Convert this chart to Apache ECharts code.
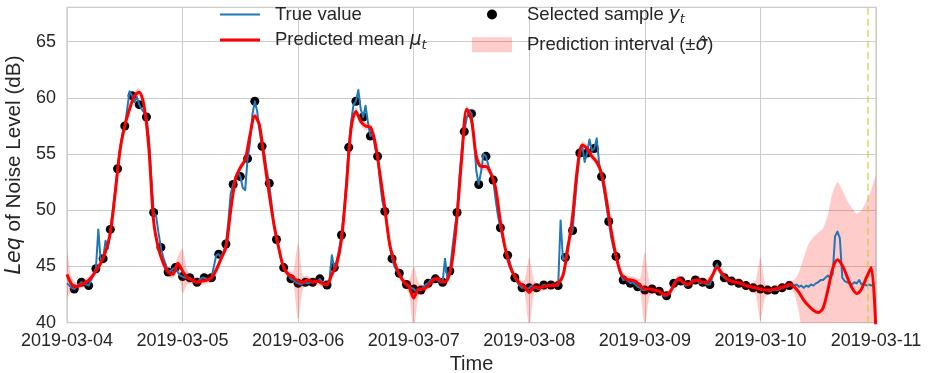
<!DOCTYPE html>
<html>
<head>
<meta charset="utf-8">
<script src="https://cdn.jsdelivr.net/npm/echarts@6/dist/echarts.min.js"></script>
<style>
  html, body { margin: 0; padding: 0; background: #ffffff; }
  #chart { width: 928px; height: 373px; }
</style>
</head>
<body>
<div id="chart"></div>
<script>
// Day labels on the time axis (one tick every 24 h, starting 2019-03-04 00:00)
const dayLabels = ['2019-03-04', '2019-03-05', '2019-03-06', '2019-03-07',
                   '2019-03-08', '2019-03-09', '2019-03-10', '2019-03-11'];

// Measured Leq (dB), one value every 30 minutes from 2019-03-04 00:00
const trueStepHours = 0.5;
const trueValues = [
  // 03-04
  43.5, 43.3, 43.1, 43.0, 43.2, 43.4, 43.6, 43.5, 43.4, 43.3,
  43.8, 44.3, 44.8, 48.3, 45.5, 45.7, 47.3, 46.6, 48.3, 50.0,
  51.8, 53.7, 55.5, 56.8, 57.5, 59.0, 60.6, 60.2, 59.6, 60.1,
  59.4, 59.0, 58.7, 58.3, 56.5, 53.0, 49.8, 49.5, 48.0, 46.7,
  45.8, 45.2, 44.5, 44.6, 44.8, 44.9, 44.5, 44.2,
  // 03-05
  44.1, 44.0, 44.0, 44.0, 43.8, 43.6, 43.6, 43.8, 44.0, 44.0,
  43.9, 43.8, 44.0, 45.0, 46.0, 46.1, 45.8, 46.3, 47.0, 49.0,
  51.5, 52.3, 53.0, 53.4, 53.0, 52.0, 51.8, 54.6, 56.0, 58.5,
  59.7, 58.8, 57.0, 55.7, 55.0, 53.5, 52.4, 50.5, 48.5, 47.4,
  46.5, 45.5, 44.9, 44.5, 44.2, 43.9, 43.8, 43.6,
  // 03-06
  43.5, 43.4, 43.5, 43.6, 43.5, 43.6, 43.6, 43.7, 43.6, 43.9,
  43.6, 43.4, 43.35, 43.8, 46.0, 44.9, 45.5, 46.5, 47.8, 49.8,
  52.5, 55.6, 57.9, 59.4, 59.7, 60.7, 59.0, 58.3, 59.3, 57.8,
  56.6, 56.9, 55.5, 54.8, 52.5, 50.8, 49.9, 48.5, 47.0, 45.7,
  45.0, 44.6, 44.4, 44.0, 43.6, 43.4, 43.3, 43.1,
  // 03-07
  43.0, 42.8, 42.9, 42.9, 43.2, 43.4, 43.5, 43.8, 43.9, 43.9,
  43.8, 43.6, 43.6, 45.7, 43.9, 44.6, 46.5, 48.3, 49.8, 53.0,
  55.5, 57.0, 58.2, 58.9, 58.6, 56.5, 53.5, 52.3, 53.5, 55.0,
  54.8, 54.0, 53.3, 52.7, 51.0, 49.5, 48.45, 47.5, 46.6, 46.0,
  45.3, 44.6, 44.0, 43.6, 43.3, 43.1, 43.1, 43.0,
  // 03-08
  43.1, 43.3, 43.1, 43.1, 43.0, 43.2, 43.35, 43.3, 43.3, 43.35,
  43.4, 43.3, 43.3, 49.1, 45.6, 45.8, 47.0, 47.6, 48.2, 50.8,
  53.2, 55.1, 55.7, 54.3, 55.1, 56.3, 55.3, 55.5, 56.4, 54.2,
  53.0, 51.8, 50.4, 49.0, 47.6, 46.6, 45.9, 45.0, 44.3, 43.8,
  43.9, 43.7, 43.5, 43.6, 43.4, 43.2, 43.1, 42.9,
  // 03-09
  42.9, 43.0, 43.0, 43.0, 42.9, 42.9, 42.8, 42.6, 42.4, 42.4,
  42.7, 43.0, 43.5, 43.8, 43.8, 43.7, 43.5, 43.3, 43.4, 43.6,
  43.8, 43.8, 43.7, 43.5, 43.6, 43.5, 43.4, 43.4, 44.0, 44.8,
  45.2, 44.6, 44.2, 44.0, 43.9, 43.8, 43.7, 43.6, 43.6, 43.5,
  43.5, 43.4, 43.3, 43.3, 43.2, 43.1, 43.1, 43.0,
  // 03-10
  43.0, 42.9, 42.9, 42.9, 42.8, 42.9, 42.9, 42.9, 43.0, 43.1,
  43.2, 43.2, 43.3, 43.4, 43.3, 43.4, 43.2, 43.3, 43.1, 43.3,
  43.2, 43.4, 43.3, 43.5, 43.6, 43.8, 43.8, 44.0, 44.2, 44.0,
  44.3, 47.7, 48.1, 47.5, 44.0, 43.7, 43.6, 43.5, 43.4, 43.6,
  43.5, 43.8, 43.4, 43.5, 43.3, 43.4, 43.3, 43.4
];

// Hours (since 2019-03-04 00:00) at which a measurement was selected
const sampleHours = [
  1.5, 3, 4.5, 6, 7.5, 9, 10.5, 12, 13.5, 15, 16.5, 18, 19.5, 21, 22.5,
  24, 25.5, 27, 28.5, 30, 31.5, 33, 34.5, 36, 37.5, 39, 40.5, 42, 43.5, 45, 46.5,
  48, 49.5, 51, 52.5, 54, 55.5, 57, 58.5, 60, 61.5, 63, 64.5, 66, 67.5, 69, 70.5,
  72, 73.5, 75, 76.5, 78, 79.5, 81, 82.5, 84, 85.5, 87, 88.5, 90, 91.5, 93, 94.5,
  96, 97.5, 99, 100.5, 102, 103.5, 105, 106.5, 108, 109.5, 111, 112.5, 114, 115.5, 117, 118.5,
  120, 121.5, 123, 124.5, 126, 127.5, 129, 130.5, 132, 133.5, 135, 136.5, 138, 139.5, 141, 142.5,
  144, 145.5, 147, 148.5, 150
];

// Predicted mean (dB), hourly from 2019-03-04 00:00 to 2019-03-11 00:00
const meanValues = [
  44.3, 43.4, 43.2, 43.4, 43.6, 44.0, 44.6, 45.3, 46.3, 48.0, 51.5, 55.3,
  57.5, 59.0, 60.2, 60.5, 59.3, 55.5, 49.0, 46.6, 45.3, 44.5, 44.3, 45.3,
  44.6, 44.0, 43.8, 43.6, 43.7, 43.8, 44.0, 44.7, 45.7, 46.7, 50.0, 52.8,
  53.8, 54.5, 56.7, 58.4, 57.5, 54.4, 51.4, 48.7, 46.6, 44.9, 44.3, 44.0,
  43.7, 43.6, 43.8, 43.6, 43.7, 43.5, 43.4, 44.3, 45.2, 47.4, 52.0, 57.3,
  58.8, 57.9, 57.5, 57.4, 56.0, 53.2, 50.2, 47.0, 45.4, 44.3, 43.6, 43.2,
  42.2, 43.0, 43.0, 43.3, 43.8, 43.9, 43.6, 43.8, 45.5, 49.5, 54.8, 59.0,
  58.0, 54.8, 53.9, 53.9, 53.3, 52.0, 49.0, 46.6, 45.0, 44.1, 43.5, 43.2,
  42.7, 43.2, 43.1, 43.2, 43.3, 43.3, 43.5, 44.2, 46.6, 49.5, 53.8, 55.8,
  55.5, 54.8, 54.3, 53.3, 51.0, 48.2, 46.0, 44.4, 43.9, 43.8, 43.7, 43.3,
  43.0, 43.0, 42.9, 42.8, 42.5, 42.6, 43.3, 43.9, 43.6, 43.4, 43.7, 43.8,
  43.6, 43.6, 44.2, 44.9, 44.4, 43.9, 43.7, 43.6, 43.5, 43.3, 43.2, 43.1,
  43.0, 42.9, 42.9, 43.0, 43.1, 43.2, 43.4, 43.2, 42.7, 42.0, 41.5, 41.1,
  40.9, 41.3, 42.9, 44.8, 45.6, 45.1, 44.1, 43.1, 42.6, 43.0, 44.0, 44.9,
  39.0
];

// Predicted standard deviation (dB), hourly, same time base as meanValues
const sigmaValues = [
  2.0, 0.6, 0.35, 0.35, 0.35, 0.35, 0.35, 0.35, 0.35, 0.35, 0.35, 0.35,
  0.35, 0.35, 0.35, 0.35, 0.35, 0.35, 0.35, 0.35, 0.35, 0.35, 0.35, 0.6,
  2.0, 0.6, 0.35, 0.35, 0.35, 0.35, 0.35, 0.35, 0.35, 0.35, 0.35, 0.35,
  0.35, 0.35, 0.35, 0.35, 0.35, 0.35, 0.35, 0.35, 0.35, 0.35, 0.35, 0.6,
  3.4, 0.6, 0.35, 0.35, 0.35, 0.35, 0.35, 0.35, 0.35, 0.35, 0.35, 0.35,
  0.35, 0.35, 0.35, 0.35, 0.35, 0.35, 0.35, 0.35, 0.35, 0.35, 0.35, 0.6,
  2.8, 0.6, 0.35, 0.35, 0.35, 0.35, 0.35, 0.35, 0.35, 0.35, 0.35, 0.35,
  0.35, 0.35, 0.35, 0.35, 0.35, 0.35, 0.35, 0.35, 0.35, 0.35, 0.35, 0.6,
  3.1, 0.6, 0.35, 0.35, 0.35, 0.35, 0.35, 0.35, 0.35, 0.35, 0.35, 0.35,
  0.35, 0.35, 0.35, 0.35, 0.35, 0.35, 0.35, 0.35, 0.35, 0.35, 0.35, 0.6,
  3.3, 0.6, 0.35, 0.35, 0.35, 0.35, 0.35, 0.35, 0.35, 0.35, 0.35, 0.35,
  0.35, 0.35, 0.35, 0.35, 0.35, 0.35, 0.35, 0.35, 0.35, 0.35, 0.35, 0.6,
  2.8, 0.6, 0.35, 0.35, 0.35, 0.35, 0.35, 0.6, 1.8, 3.8, 5.5, 6.5,
  7.1, 7.1, 6.7, 6.8, 6.9, 6.7, 6.8, 7.1, 7.1, 7.0, 6.8, 6.9,
  14.0
];

// Reference instant marked by the dashed vertical line (hours since start)
const markerHour = 166.25;

const FONT = '"Liberation Sans", Arial, sans-serif';
const MATH = '"DejaVu Sans", sans-serif';
const INK = '#262626';
const GRID = '#cccccc';
const BAND = 'rgba(255,0,0,0.2)';

const trueData = trueValues.map((v, i) => [i * trueStepHours, v]);
const meanData = meanValues.map((v, i) => [i, v]);
const sampleData = sampleHours.map(h => [h, trueValues[Math.round(h / trueStepHours)]]);

// Shaded mean ± sigma band, drawn as one polygon through the cartesian scales
function renderBand(params, api) {
  const upper = meanValues.map((m, i) => api.coord([i, m + sigmaValues[i]]));
  const lower = meanValues.map((m, i) => api.coord([i, m - sigmaValues[i]])).reverse();
  const cs = params.coordSys;
  return {
    type: 'polygon',
    shape: { points: upper.concat(lower), smooth: 0.25 },
    style: { fill: BAND, stroke: null },
    clipPath: { type: 'rect', shape: { x: cs.x, y: cs.y, width: cs.width, height: cs.height } }
  };
}

const legendRich = {
  m: { fontFamily: MATH, fontStyle: 'italic', fontSize: 18.5, lineHeight: 24, color: INK },
  s: { fontFamily: MATH, fontStyle: 'italic', fontSize: 13, lineHeight: 14, verticalAlign: 'bottom', color: INK }
};
const legendLabels = {
  'True value': 'True value',
  'Predicted mean': 'Predicted mean {m|\u03bc}{s|t}',
  'Selected sample': 'Selected sample {m|y}{s|t}',
  'Prediction interval': 'Prediction interval (\u00b1{m|\u03c3\u0302})'
};
function makeLegend(name, left, top, icon, w, h, color, gap) {
  return {
    show: true, orient: 'vertical', left: left, top: top, padding: 0,
    itemWidth: w, itemHeight: h, selectedMode: false,
    data: [{ name: name, icon: icon, itemStyle: { color: color, borderWidth: 0, opacity: 1 } }],
    formatter: n => legendLabels[n],
    textStyle: {
      fontFamily: FONT, fontSize: 18.5, color: INK, lineHeight: 24,
      padding: [0, 0, 0, gap], rich: legendRich
    }
  };
}

const chart = echarts.init(document.getElementById('chart'), null, { renderer: 'canvas' });

chart.setOption({
  animation: false,
  backgroundColor: '#ffffff',
  grid: {
    left: 67, right: 52, top: 7.3, bottom: 50.3,
    containLabel: false, outerBoundsMode: 'none',
    show: true, borderColor: GRID, borderWidth: 1.25, backgroundColor: '#ffffff'
  },
  legend: [
    makeLegend('True value', 220, 2.5, 'rect', 40, 2, '#1f77b4', 10),
    makeLegend('Predicted mean', 220, 28, 'rect', 40, 3.2, '#ff0000', 10),
    makeLegend('Selected sample', 487, 2.5, 'circle', 10, 10, '#000000', 25),
    makeLegend('Prediction interval', 472, 32.7, 'rect', 40, 15, BAND, 10)
  ],
  xAxis: {
    type: 'value', min: 0, max: 168, interval: 24,
    axisLine: { show: false }, axisTick: { show: false },
    splitLine: { show: true, lineStyle: { color: GRID, width: 1 } },
    axisLabel: {
      fontFamily: FONT, fontSize: 18, color: INK, margin: 9,
      formatter: v => dayLabels[Math.round(v / 24)] || ''
    },
    name: 'Time', nameLocation: 'middle', nameGap: 30,
    nameTextStyle: { fontFamily: FONT, fontSize: 20, color: INK }
  },
  yAxis: {
    type: 'value', min: 40, max: 68.06, interval: 5,
    axisLine: { show: false }, axisTick: { show: false },
    splitLine: { show: true, lineStyle: { color: GRID, width: 1 } },
    axisLabel: {
      fontFamily: FONT, fontSize: 18, color: INK, margin: 11,
      formatter: v => (Math.abs(v - Math.round(v / 5) * 5) < 1e-6 ? String(v) : '')
    },
    name: '{m|Leq} of Noise Level (dB)', nameLocation: 'middle', nameGap: 38,
    nameTextStyle: {
      fontFamily: FONT, fontSize: 20.7, color: INK,
      rich: { m: { fontFamily: MATH, fontStyle: 'italic', fontSize: 20.7, color: INK } }
    }
  },
  series: [
    {
      name: 'Selected sample', type: 'scatter', data: sampleData,
      symbol: 'circle', symbolSize: 9,
      itemStyle: { color: '#000000', opacity: 1 },
      color: '#000000', z: 2, silent: true
    },
    {
      name: 'Prediction interval', type: 'custom', data: [[0, 45]],
      renderItem: renderBand, color: BAND, z: 3, silent: true
    },
    {
      name: 'True value', type: 'line', data: trueData,
      symbol: 'none', color: '#1f77b4',
      lineStyle: { color: '#1f77b4', width: 2, join: 'round' },
      z: 4, silent: true,
      markLine: {
        silent: true, symbol: 'none', label: { show: false },
        lineStyle: { color: 'rgba(206,200,40,0.55)', width: 2, type: [7, 4] },
        data: [{ xAxis: markerHour }]
      }
    },
    {
      name: 'Predicted mean', type: 'line', data: meanData,
      symbol: 'none', smooth: 0.3, color: '#ff0000',
      lineStyle: { color: '#ff0000', width: 3, join: 'round' },
      z: 5, silent: true
    }
  ]
});
</script>
</body>
</html>
